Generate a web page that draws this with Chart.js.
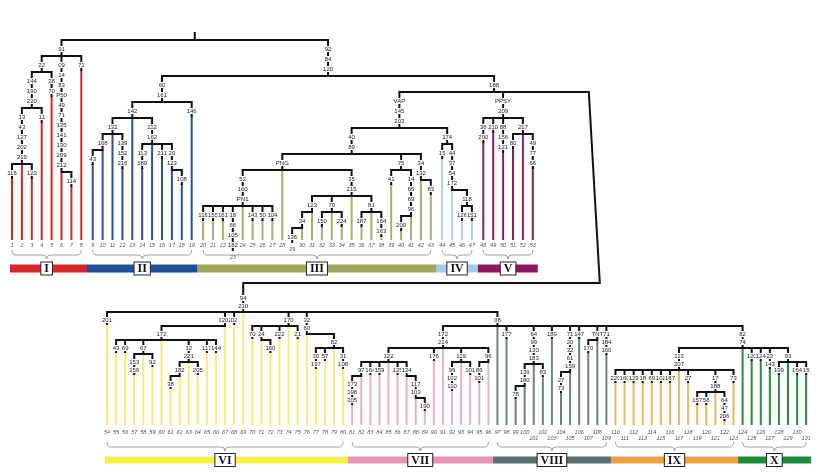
<!DOCTYPE html>
<html lang="en">
<head>
<meta charset="UTF-8">
<title>Tree</title>
<script src="https://cdn.jsdelivr.net/npm/chart.js"></script>
<style>
  html, body { margin: 0; padding: 0; background: #fff; }
  canvas { display: block; }
</style>
</head>
<body>
<canvas id="treeChart" width="825" height="473"></canvas>
<script>
// clade groups (leaf ranges)
const groupNames = ['I', 'II', 'III', 'IV', 'V', 'VI', 'VII', 'VIII', 'IX', 'X'];
const groupFirst = [1, 9, 20, 44, 48, 54, 81, 97, 110, 124];
const groupLast  = [8, 19, 43, 47, 53, 80, 96, 109, 123, 131];

// internal nodes: [id, labels on its stem, children, child the stem runs straight into]
const spineTop = [
  ['root', [], ['A', 'X']],
  ['X', ['92', '84', '120'], ['B', 'Y']],
  ['Y', ['188'], ['C', 'D', 'LINK']],
  ['C', ['VAP', '145', '203'], ['C1', 'C2']]
];
const cladeI = [
  ['A', ['91'], ['A1', 'A2', 8]],
  ['A1', ['22'], ['A11', 5]],
  ['A11', ['144', '190', '220'], ['A111', 4]],
  ['A111', ['13', '43', '127', '202', '219'], [1, 2, 3], 2],
  ['A2', ['09', '14', '83', 'P50', '49', '71', '135', '141', '130', '209', '212'], [6, 7], 6]
];
const cladeII = [
  ['B', ['60', '161'], ['B1', 19]],
  ['B1', ['142'], ['B11', 13, 'B12'], 13],
  ['B11', ['132'], ['B111', 11, 12], 11],
  ['B111', ['168'], [9, 10], 10],
  ['B12', ['112', '162'], [14, 15, 16, 'B121'], 15],
  ['B121', ['20', '123'], [17, 18], 17]
];
const cladeIII = [
  ['C1', ['40', '89'], ['C11', 'C12', 'C13']],
  ['C11', ['PNG'], ['C111', 28, 'C112'], 28],
  ['C111', ['52', '160', 'PN1'], [20, 21, 22, 23, 24, 25, 26, 27], 24],
  ['C112', ['35', '215'], ['C1121', 'C1122', 35, 'C1123'], 35],
  ['C1121', ['123'], ['C11211', 31], 31],
  ['C11211', ['34'], [29, 30], 30],
  ['C1122', ['70'], [32, 33, 34], 33],
  ['C1123', ['81'], [36, 37, 38], 37],
  ['C12', ['75'], [39, 'C121']],
  ['C121', ['14', '65', '69', '96'], [40, 41], 41],
  ['C13', ['34', '132'], [42, 43], 42]
];
const cladeIV = [
  ['C2', ['174'], [44, 'C21']],
  ['C21', ['44', '37', '54', '172'], [45, 'C211'], 45],
  ['C211', ['118'], [46, 47]]
];
const cladeV = [
  ['D', ['PPSY', '209'], [48, 49, 50, 'D1']],
  ['D1', ['217'], [51, 52, 53], 52]
];
const spineBottom = [
  ['R', ['94', '210'], [54, 'E1', 68, 69, 'E2', 'E3', 'E4'], 69],
  ['E4', ['08'], ['F1', 97, 98, 'G1', 103, 'G2', 106, 'G3', 109, 'H'], 97],
  ['H', ['82', '74'], ['H1', 124, 125, 126, 127, 'H2'], 124]
];
const cladeVI = [
  ['E1', ['1202'], ['E11', 67], 67],
  ['E11', ['172'], [55, 56, 'E111', 60, 'E112', 65, 66], 60],
  ['E111', ['67'], [57, 58, 59], 58],
  ['E112', ['12', '221'], ['E1121', 63, 64], 63],
  ['E1121', ['182'], [61, 62], 62],
  ['E2', ['170'], [70, 'E21', 73, 74, 75], 74],
  ['E21', ['24'], [71, 72], 71],
  ['E3', ['32', '60'], [76, 'E31'], 76],
  ['E31', ['82'], [77, 78, 79, 80], 79]
];
const cladeVII = [
  ['F1', ['172', '214'], ['F11', 90, 91, 'F12', 'F13'], 91],
  ['F11', ['122'], ['F111', 83, 84, 85, 86, 'F112'], 85],
  ['F111', ['97'], [81, 82], 82],
  ['F112', ['124'], [87, 'F1121'], 87],
  ['F1121', ['117', '103'], [88, 89], 88],
  ['F12', ['119'], [92, 93, 94], 93],
  ['F13', ['96'], [95, 96], 96]
];
const cladeVIII = [
  ['G1', ['64', '99', '130', '183'], ['G11', 101, 102], 101],
  ['G11', ['139', '180'], [99, 100], 100],
  ['G2', ['71', '20', '32', '61', '159'], [104, 105], 105],
  ['G3', ['TNT'], [107, 108], 108]
];
const cladeIX = [
  ['H1', ['113', '207'], [110, 111, 112, 113, 114, 115, 116, 117, 118, 'H11', 123], 117],
  ['H11', ['17', '188'], [119, 120, 121, 122], 121]
];
const cladeX = [
  ['H2', ['93'], [128, 129, 130, 131], 129]
];

// labels on the terminal branches
const leafTagsTop = {
  1: ['116'], 3: ['123'], 4: ['11'], 5: ['28', '70'], 7: ['114'], 8: ['71'],
  9: ['43'], 12: ['139', '152', '216'], 14: ['113', '189'], 16: ['211'], 18: ['108'], 19: ['146'],
  20: ['116'], 21: ['155'], 22: ['161'], 23: ['18', '66', '105', '182'], 25: ['143'], 26: ['50'], 27: ['104'],
  29: ['136'], 32: ['150'], 34: ['224'], 36: ['187'], 38: ['164', '163'], 39: ['41'], 40: ['200'], 43: ['83'],
  44: ['15'], 46: ['126'], 47: ['151'],
  48: ['36', '200'], 49: ['210'], 50: ['88', '156', '121'], 51: ['80'], 53: ['49', '77', '66']
};
const leafTagsBottom = {
  54: ['201'], 55: ['43'], 56: ['69'], 57: ['153', '156'], 59: ['92'], 61: ['38'], 64: ['205'], 65: ['117'], 66: ['144'],
  68: ['02'], 70: ['70'], 72: ['160'], 73: ['222'], 75: ['21'], 77: ['30', '197'], 78: ['57'], 80: ['31', '108'],
  81: ['173', '198', '205'], 83: ['164'], 84: ['159'], 86: ['125'], 89: ['190'], 90: ['176'], 92: ['99', '102', '110'], 94: ['101'], 95: ['86', '101'],
  98: ['177'], 99: ['78'], 102: ['83'], 103: ['189'], 104: ['27', '73'], 106: ['147'], 107: ['170'], 109: ['71', '184', '160'],
  110: ['220'], 111: ['160'], 112: ['129'], 113: ['18'], 114: ['69'], 115: ['102'], 116: ['187'], 118: ['27'], 119: ['157'], 120: ['58'], 122: ['64', '47', '206'], 123: ['73'],
  125: ['120'], 126: ['124'], 127: ['23', '143'], 128: ['199'], 130: ['164'], 131: ['15']
};

// ---- styles / layout ----
const bandColors = ['#d9252b', '#1e4f9a', '#9ea65b', '#9fcfea', '#93175f', '#f6ee4a', '#e596b5', '#5b7171', '#e9a443', '#1e8b3a'];
const lineColors = ['#cc2b2b', '#2d4f98', '#a9ad73', '#a9d3ee', '#8a1f5e', '#f4ee78', '#e7b3c6', '#6e8282', '#e9b66c', '#2b8a3e'];
const TOP = { base: 240, num: 245, brace: 250, band: 268.5, step: 10 };
const BOT = { base: 425, num: 432, brace: 442, band: 460, step: 8 };
const panelOf = leaf => (leaf <= 53 ? TOP : BOT);

const groupOf = leaf => groupFirst.findIndex((f, i) => leaf >= f && leaf <= groupLast[i]);
function leafX(leaf) {
  if (leaf <= 53) return 12 + 9.9 * (leaf - 1) + 1.5 * groupOf(leaf);
  return 107 + 9.08 * (leaf - 54);
}
const LINK_X = leafX(53) + 56;

const nodeMap = {};
[spineTop, cladeI, cladeII, cladeIII, cladeIV, cladeV, spineBottom, cladeVI, cladeVII, cladeVIII, cladeIX, cladeX]
  .flat().forEach(([id, tags, kids, trunk]) => { nodeMap[id] = { tags, kids, trunk }; });

function nodeX(id) {
  if (typeof id === 'number') return leafX(id);
  if (id === 'LINK') return LINK_X;
  const n = nodeMap[id];
  if (n.trunk !== undefined) return nodeX(n.trunk);
  const xs = n.kids.map(nodeX);
  return (Math.min(...xs) + Math.max(...xs)) / 2;
}

const black = [], colored = lineColors.map(() => []), stemTags = [], nodeY = {}, numY = {};
const seg = (arr, x1, y1, x2, y2) => arr.push({ x: x1, y: y1 }, { x: x2, y: y2 }, { x: x2, y: null });

function walkLeaf(leaf, py) {
  const P = panelOf(leaf), x = leafX(leaf);
  const tg = (leaf <= 53 ? leafTagsTop : leafTagsBottom)[leaf] || [];
  let start = py;
  tg.forEach((t, k) => stemTags.push({ x, y: py + 4 + P.step * (k + 0.5), text: t }));
  if (tg.length) {
    start = py + P.step * tg.length + 4;
    seg(black, x, py, x, start);
  }
  if (start < P.base) seg(colored[groupOf(leaf)], x, start, x, P.base);
  numY[leaf] = Math.max(P.num, start + 7);
}

function walk(id, py, drawFrom, P) {
  if (id === 'LINK') return;
  if (typeof id === 'number') return walkLeaf(id, py);
  const n = nodeMap[id], x = nodeX(id);
  const y = py + 6 + P.step * n.tags.length;
  nodeY[id] = y;
  seg(black, x, drawFrom, x, y);
  n.tags.forEach((t, k) => stemTags.push({ x, y: py + 4 + P.step * (k + 0.5), text: t }));
  const xs = n.kids.map(nodeX);
  seg(black, Math.min(...xs), y, Math.max(...xs), y);
  n.kids.forEach(k => walk(k, y, y, P));
}

walk('root', 34, 33, TOP);
// connector from the upper tree down to the lower tree
black.push({ x: LINK_X, y: nodeY.Y }, { x: LINK_X + 11, y: 283 }, { x: nodeX('R'), y: 283 }, { x: nodeX('R'), y: null });
walk('R', 290, 283, BOT);

// colour bands under the two rows of leaves
const bandSets = groupNames.map((g, i) => {
  const P = panelOf(groupFirst[i]);
  const prevSame = i > 0 && panelOf(groupLast[i - 1]) === P;
  const nextSame = i < groupNames.length - 1 && panelOf(groupFirst[i + 1]) === P;
  const left = prevSame ? (leafX(groupLast[i - 1]) + leafX(groupFirst[i])) / 2 : leafX(groupFirst[i]) - 2;
  const right = nextSame ? (leafX(groupLast[i]) + leafX(groupFirst[i + 1])) / 2 : leafX(groupLast[i]) + 5;
  return {
    data: [{ x: left, y: P.band }, { x: right, y: P.band }],
    borderColor: bandColors[i], borderWidth: P === TOP ? 8 : 7, borderCapStyle: 'butt'
  };
});

const datasets = [
  { data: black, borderColor: '#111', borderWidth: 2, borderCapStyle: 'square' },
  ...colored.map((d, i) => ({ data: d, borderColor: lineColors[i], borderWidth: 2, borderCapStyle: 'butt' })),
  ...bandSets
].map(d => Object.assign({ showLine: true, pointRadius: 0, spanGaps: false }, d));

const treeText = {
  id: 'treeText',
  afterDatasetsDraw(chart) {
    const { ctx, scales: { x, y } } = chart;
    ctx.save();
    ctx.textAlign = 'center';
    ctx.textBaseline = 'middle';
    // stem labels
    ctx.font = '6px "Liberation Sans", Arial, sans-serif';
    stemTags.forEach(t => {
      const px = x.getPixelForValue(t.x), py = y.getPixelForValue(t.y);
      const w = ctx.measureText(t.text).width;
      ctx.fillStyle = '#fff';
      ctx.fillRect(px - w / 2 - 0.5, py - 3, w + 1, 6);
      ctx.fillStyle = '#222';
      ctx.fillText(t.text, px, py + 0.5);
    });
    // leaf numbers
    ctx.font = 'italic 5.5px "Liberation Sans", Arial, sans-serif';
    ctx.fillStyle = '#555';
    for (let leaf = 1; leaf <= 131; leaf++) {
      const row2 = leaf >= 101 && leaf % 2 === 1;
      ctx.fillText(String(leaf), x.getPixelForValue(leafX(leaf)), y.getPixelForValue(numY[leaf] + (row2 ? 6 : 0)));
    }
    // braces and numeral boxes
    groupNames.forEach((g, i) => {
      const P = panelOf(groupFirst[i]);
      const x1 = x.getPixelForValue(leafX(groupFirst[i])), x2 = x.getPixelForValue(leafX(groupLast[i]));
      const m = (x1 + x2) / 2, yt = y.getPixelForValue(P.brace), yf = yt + 5, tip = yt + 9;
      ctx.strokeStyle = '#888';
      ctx.lineWidth = 0.8;
      ctx.beginPath();
      ctx.moveTo(x1, yt);
      ctx.quadraticCurveTo(x1, yf, x1 + 4, yf);
      ctx.lineTo(m - 4, yf);
      ctx.quadraticCurveTo(m, yf, m, tip);
      ctx.quadraticCurveTo(m, yf, m + 4, yf);
      ctx.lineTo(x2 - 4, yf);
      ctx.quadraticCurveTo(x2, yf, x2, yt);
      ctx.stroke();

      ctx.font = 'bold 12px "Liberation Serif", serif';
      const w = ctx.measureText(g).width + 7, by = y.getPixelForValue(P.band);
      ctx.fillStyle = '#fff';
      ctx.fillRect(m - w / 2, by - 6.5, w, 13);
      ctx.strokeStyle = '#222';
      ctx.lineWidth = 1;
      ctx.strokeRect(m - w / 2, by - 6.5, w, 13);
      ctx.fillStyle = '#111';
      ctx.fillText(g, m, by + 0.5);
    });
    ctx.restore();
  }
};

new Chart(document.getElementById('treeChart'), {
  type: 'scatter',
  data: { datasets },
  options: {
    responsive: false,
    animation: false,
    layout: { padding: 0 },
    plugins: { legend: { display: false }, tooltip: { enabled: false } },
    scales: {
      x: { type: 'linear', display: false, min: 0, max: 825 },
      y: { type: 'linear', display: false, min: 0, max: 473, reverse: true }
    }
  },
  plugins: [treeText]
});
</script>
</body>
</html>
